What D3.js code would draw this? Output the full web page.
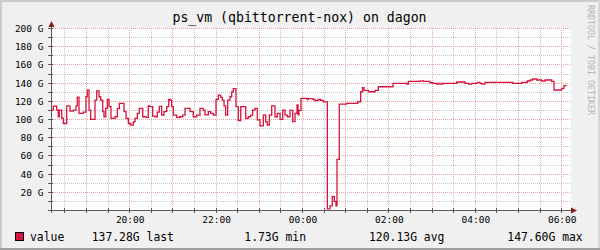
<!DOCTYPE html>
<html><head><meta charset="utf-8">
<script src="https://cdn.jsdelivr.net/npm/d3@7"></script>
<style>html,body{margin:0;padding:0;background:#f0f0f0} svg{display:block}</style>
</head><body>
<svg id="chart" width="600" height="250"></svg>
<script>
// ---------- data ----------
const chartTitle = "ps_vm (qbittorrent-nox) on dagon";
const watermark = "RRDTOOL / TOBI OETIKER";
// sample start times, minutes after 18:00
const sampleMinutes = [10.7,13.9,18.6,20.8,22.2,25.6,27.8,32.5,37.1,41.7,45.4,47.2,49.6,55.6,59.3,61.1,63.5,65.8,71.8,74.2,
  77.4,79.7,82.5,84.3,86.7,88.9,91.3,94.0,99.6,102.8,105.6,112.1,114.9,118.1,121.4,125.0,127.4,130.6,133.3,138.1,
  142.6,145.8,148.2,151.9,155.1,158.3,161.1,164.4,167.6,171.4,174.2,176.0,178.3,180.6,185.3,189.9,193.6,196.8,203.8,208.3,
  213.1,217.6,222.2,224.6,229.2,232.5,236.1,239.9,243.1,246.4,248.6,251.0,253.3,256.1,259.3,261.7,263.9,267.6,270.8,274.2,
  281.1,284.7,288.1,290.8,294.0,297.2,301.0,305.6,308.9,311.1,313.9,317.2,321.8,325.0,328.8,332.5,335.7,338.9,342.6,346.4,
  349.6,352.4,353.8,355.1,357.9,366.2,367.6,374.6,377.3,381.5,385.3,388.9,394.5,398.2,401.4,404.2,406.5,407.9,411.1,421.4,
  436.7,440.8,443.3,445.4,451.4,460.7,465.3,485.7,504.7,507.0,523.2,527.8,537.1,541.7,546.4,548.6,551.0,554.7,574.2,585.7,
  590.3,595.0,602.8,606.5,608.9,613.5,652.0,664.5,672.2,676.0,679.7,685.3,692.2,696.8,706.1,709.3,720.0,723.2];
// values in G
const sampleValues = [110.4,114.8,110.4,103,110.4,101.6,95.6,114.9,109.3,110.4,115,124.6,106.7,108,125,132.2,110.4,100.1,121.4,131.5,
  125,121.4,108.6,103,112.2,122.1,114.1,101.3,103,112,117.7,108.6,101.3,95.6,93.9,97.5,101.3,106.8,112.2,103,
  102.3,114.9,114.1,103.7,103,108.1,114.5,104.9,108.6,114.1,122.1,121.4,114.1,104.9,102.3,103,104.9,112.2,108.6,103,
  104.9,112.2,110.4,105,108.6,106.8,104.9,122.1,126.8,124.3,121.4,114.9,104.9,121.4,125,130.4,134,114.1,98.8,114.1,
  101.3,103,104.9,110.4,112.2,99.5,93,104.9,97.5,93.9,104.9,114.9,103,106.8,100.1,110.4,104.9,103,110,97.6,
  106.8,116,105,110,123.3,122,123,122,120.8,122,121,119.3,1.73,5,15.6,10.1,5,56.2,117,117.8,
  119.5,130.5,135,132,130.5,132,136,139.8,139,142,142.5,141.9,140.4,139.8,138.8,139.8,138.8,139.8,141.2,139.8,
  138.8,139.8,140.9,139.8,138.8,140.9,139.8,140.9,142.3,143.4,144.5,143.4,142.3,143.4,141.9,132.4,134.2,137.28];
const lastSampleEndMinute = 727;
const viewStartMinute = 10.7, viewEndMinute = 732.9;
const yMax = 200;
const yMajorTicks = [20,40,60,80,100,120,140,160,180,200];
const yMinorTicks = [10,30,50,70,90,110,130,150,170,190];
const legendName = "value";
const statValues = ["137.28G","1.73G","120.13G","147.60G"];
const statNames = ["last","min","avg","max"];

// ---------- layout ----------
const W = 600, H = 250;
const plot = {left: 51, right: 571, top: 28, bottom: 210};
const lineColor = "#d7143c";
const mono = "'DejaVu Sans Mono', monospace";

const base = new Date(2024, 0, 1, 18, 0, 0);
const toDate = m => new Date(base.getTime() + m * 60000);

const svg = d3.select("#chart");

// background and 3D frame
svg.append("rect").attr("x",0).attr("y",0).attr("width",W).attr("height",H).attr("fill","#f0f0f0");
svg.append("rect").attr("x",0).attr("y",0).attr("width",W).attr("height",2).attr("fill","#cbcbcb");
svg.append("rect").attr("x",0).attr("y",0).attr("width",2).attr("height",H).attr("fill","#cbcbcb");
svg.append("rect").attr("x",W-2).attr("y",0).attr("width",2).attr("height",H).attr("fill","#d6d6d6");
svg.append("rect").attr("x",0).attr("y",H-2).attr("width",W).attr("height",2).attr("fill","#9f9f9f");

const x = d3.scaleTime().domain([toDate(viewStartMinute), toDate(viewEndMinute)]).range([plot.left, plot.right]);
const y = d3.scaleLinear().domain([0, yMax]).range([plot.bottom + 0.5, plot.top + 0.5]);

// canvas
svg.append("rect").attr("x",plot.left).attr("y",plot.top).attr("width",plot.right-plot.left).attr("height",plot.bottom-plot.top).attr("fill","#ffffff");

const g = svg.append("g");
const crisp = v => Math.round(v - 0.5) + 0.5;

// grids
const xMinor = x.ticks(d3.timeMinute.every(30)).filter(d => d.getMinutes() !== 0);
const xMajor = x.ticks(d3.timeHour.every(1));
const minorColor = "#c4c4c4", majorColor = "#eca0a0";

g.selectAll(".xminor").data(xMinor).enter().append("line")
  .attr("x1", d => crisp(x(d))).attr("x2", d => crisp(x(d)))
  .attr("y1", plot.top).attr("y2", plot.bottom)
  .attr("stroke", minorColor).attr("stroke-dasharray","1,1").attr("shape-rendering","crispEdges");
g.selectAll(".yminor").data(yMinorTicks).enter().append("line")
  .attr("x1", plot.left).attr("x2", plot.right)
  .attr("y1", d => crisp(y(d))).attr("y2", d => crisp(y(d)))
  .attr("stroke", minorColor).attr("stroke-dasharray","1,1").attr("shape-rendering","crispEdges");
g.selectAll(".xmajor").data(xMajor).enter().append("line")
  .attr("x1", d => crisp(x(d))).attr("x2", d => crisp(x(d)))
  .attr("y1", plot.top).attr("y2", plot.bottom)
  .attr("stroke", majorColor).attr("stroke-dasharray","1,1").attr("shape-rendering","crispEdges");
g.selectAll(".ymajor").data(yMajorTicks).enter().append("line")
  .attr("x1", plot.left).attr("x2", plot.right)
  .attr("y1", d => crisp(y(d))).attr("y2", d => crisp(y(d)))
  .attr("stroke", majorColor).attr("stroke-dasharray","1,1").attr("shape-rendering","crispEdges");

// axis tick marks
const axisColor = "#5a5a5a";
g.selectAll(".xt").data(xMajor.concat(xMinor)).enter().append("line")
  .attr("x1", d => crisp(x(d))).attr("x2", d => crisp(x(d)))
  .attr("y1", plot.bottom - 2).attr("y2", plot.bottom + 3)
  .attr("stroke", axisColor).attr("shape-rendering","crispEdges");
g.selectAll(".yt").data(yMajorTicks.concat(yMinorTicks)).enter().append("line")
  .attr("x1", plot.left - 3).attr("x2", plot.left + 2)
  .attr("y1", d => crisp(y(d))).attr("y2", d => crisp(y(d)))
  .attr("stroke", axisColor).attr("shape-rendering","crispEdges");

// data line
const data = sampleMinutes.map((m, i) => ({t: toDate(m), v: sampleValues[i]}));
data.push({t: toDate(lastSampleEndMinute), v: sampleValues[sampleValues.length - 1]});
const line = d3.line().x(d => x(d.t)).y(d => y(d.v)).curve(d3.curveStepAfter);
svg.append("path").datum(data).attr("d", line)
  .attr("fill","none").attr("stroke", lineColor).attr("stroke-width", 1.3);

// axes
svg.append("line").attr("x1", plot.left + 0.5).attr("x2", plot.left + 0.5)
  .attr("y1", plot.top - 4).attr("y2", plot.bottom + 3)
  .attr("stroke", axisColor).attr("shape-rendering","crispEdges");
svg.append("line").attr("x1", plot.left - 3).attr("x2", plot.right + 1)
  .attr("y1", plot.bottom + 0.5).attr("y2", plot.bottom + 0.5)
  .attr("stroke", axisColor).attr("shape-rendering","crispEdges");
const arrowColor = "#8a1c1c";
svg.append("path").attr("d", `M${plot.left-2.5},${plot.top-1}L${plot.left+3.5},${plot.top-1}L${plot.left+0.5},${plot.top-7}Z`).attr("fill", arrowColor);
svg.append("path").attr("d", `M${plot.right},${plot.bottom-2.5}L${plot.right},${plot.bottom+3.5}L${plot.right+6},${plot.bottom+0.5}Z`).attr("fill", arrowColor);

// y labels
svg.selectAll(".ylab").data(yMajorTicks).enter().append("text")
  .attr("x", 43.5).attr("y", d => y(d) + 3.4)
  .attr("text-anchor","end").attr("font-family", mono).attr("font-size", "9.5px").attr("fill","#000")
  .text(d => d + " G");

// x labels
const xLabelTicks = x.ticks(d3.timeHour.every(2));
const fmt = d3.timeFormat("%H:%M");
svg.selectAll(".xlab").data(xLabelTicks).enter().append("text")
  .attr("x", d => x(d) + 0.5).attr("y", 223)
  .attr("text-anchor","middle").attr("font-family", mono).attr("font-size", "9.5px").attr("fill","#000")
  .text(d => fmt(d));

// title
svg.append("text").attr("x", 299.5).attr("y", 22).attr("text-anchor","middle")
  .attr("font-family", mono).attr("font-size","13.2px").attr("fill","#000").text(chartTitle);

// watermark
svg.append("text").attr("transform","translate(588,5) rotate(90)")
  .attr("font-family", mono).attr("font-size","8.3px").attr("fill","#b4b4b4").text(watermark);

// legend
svg.append("rect").attr("x",15.5).attr("y",232.5).attr("width",8).attr("height",8)
  .attr("fill", lineColor).attr("stroke","#000").attr("shape-rendering","crispEdges");
const legendX = [30, 91.7, 244.3, 369, 507.3];
const legendTexts = [legendName].concat(statValues.map((v, i) => v + " " + statNames[i]));
svg.selectAll(".leg").data(legendTexts).enter().append("text")
  .attr("x", (d, i) => legendX[i]).attr("y", 240.5)
  .attr("font-family", mono).attr("font-size","11.4px").attr("fill","#000")
  .text(d => d);
</script>
</body></html>
